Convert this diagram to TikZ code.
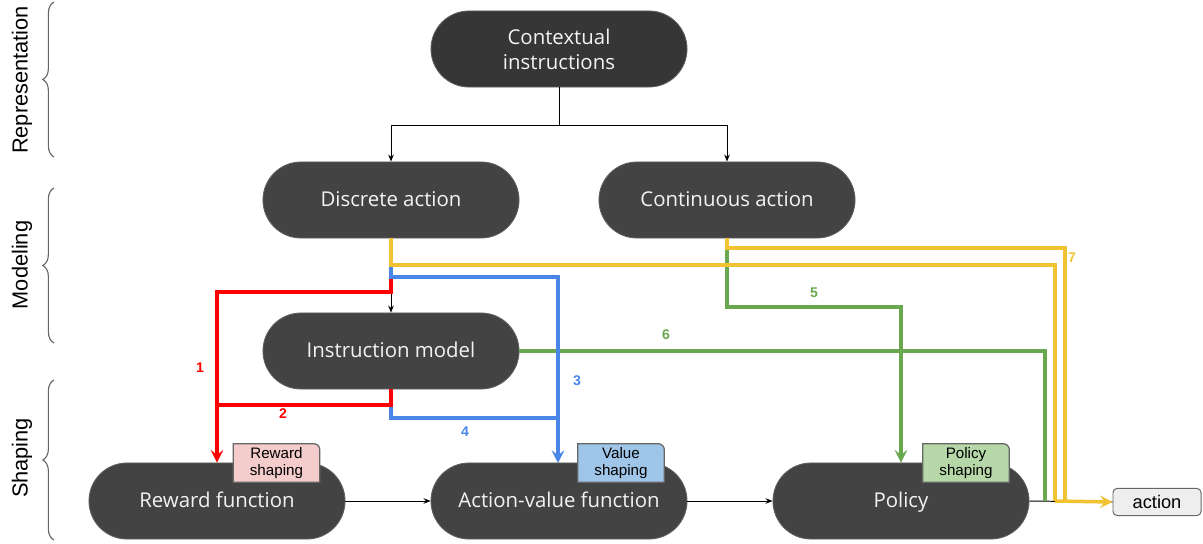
\documentclass[tikz,border=0pt]{standalone}
\usepackage{fontspec}
\setmainfont{Liberation Sans}
\newfontfamily\nodefont{Open Sans}
\usetikzlibrary{arrows.meta,decorations.pathreplacing}
\definecolor{nodefill}{HTML}{434343}
\definecolor{ctxfill}{HTML}{363636}
\definecolor{nodeline}{HTML}{5F5F5F}
\definecolor{nodetext}{HTML}{F3F3F3}
\definecolor{cred}{HTML}{FF0000}
\definecolor{cblue}{HTML}{4A86E8}
\definecolor{cyellow}{HTML}{F1C232}
\definecolor{cgreen}{HTML}{6AA84F}
\definecolor{tagpink}{HTML}{F4CCCC}
\definecolor{tagblue}{HTML}{9FC5E8}
\definecolor{taggreen}{HTML}{B6D7A8}
\definecolor{actfill}{HTML}{EEEEEE}
\definecolor{bracegray}{HTML}{666666}
\begin{document}
\begin{tikzpicture}[x=0.025cm,y=-0.025cm,
  pill/.style={rectangle, rounded corners=0.95cm, fill=nodefill, draw=nodeline, line width=0.6pt,
    minimum width=6.4cm, minimum height=1.9cm, text=nodetext, align=center,
    font=\nodefont\fontsize{14.5}{17.7}\selectfont, inner sep=0pt},
  single/.style={text height=1.2em, text depth=0.22em},
  tagbox/.style={minimum width=2.15cm, minimum height=0.95cm, inner sep=0pt, align=center,
    font=\fontsize{10.8}{12.2}\selectfont},
  tagedge/.style={draw=bracegray, line width=0.9pt},
  thin/.style={draw=black, line width=0.7pt},
  thinarrow/.style={thin, -{Stealth[length=5pt,width=4pt]}},
  colline/.style={line width=2.5pt},
  colarrow/.style={colline, -{Stealth[length=9pt,width=9pt,inset=3.5pt]}},
  numlabel/.style={font=\bfseries\fontsize{10}{11}\selectfont},
  sidelabel/.style={rotate=90, font=\fontsize{15.5}{18}\selectfont},
  sidebrace/.style={draw=bracegray, line width=0.8pt, decorate, decoration={brace, amplitude=0.28cm}}
]
\useasboundingbox (0,0) rectangle (1203,544);

% side labels and braces
\node[sidelabel] (lrep) at (22,80) {Representation};
\node[sidelabel] (lmod) at (22,265) {Modeling};
\node[sidelabel] (lsha) at (22,458) {Shaping};
\draw[sidebrace] (54,157) -- (54,2);
\draw[sidebrace] (54,343) -- (54,188);
\draw[sidebrace] (54,540) -- (54,380);

% nodes
\node[pill, fill=ctxfill] (ctx) at (559,49) {Contextual\\instructions};
\node[pill, single] (disc) at (391,200) {Discrete action};
\node[pill, single] (cont) at (727,200) {Continuous action};
\node[pill, single] (inst) at (391,351) {Instruction model};
\node[pill, single] (rew) at (217,501) {Reward function};
\node[pill, single] (av) at (559,501) {Action-value function};
\node[pill, single] (pol) at (901,501) {Policy};
\node[draw=bracegray, fill=actfill, rounded corners=3pt, line width=0.7pt, minimum width=2.2cm,
  minimum height=0.68cm, inner sep=0pt, font=\fontsize{13}{15}\selectfont] (act) at (1157,502) {action};

% tags
\node[tagbox] (trew) at (276.5,463) {};
\node[tagbox] (tval) at (621,463) {};
\node[tagbox] (tpol) at (966,463) {};
\foreach \t/\c in {trew/tagpink, tval/tagblue, tpol/taggreen}{
  \filldraw[tagedge, fill=\c] (\t.south west) -- (\t.north west) -- ([xshift=-0.15cm]\t.north east)
    arc[start angle=90, end angle=0, radius=0.15cm] -- (\t.south east) -- cycle;
}
\node[tagbox] (trewt) at (trew) {Reward\\shaping};
\node[tagbox] (tvalt) at (tval) {Value\\shaping};
\node[tagbox] (tpolt) at (tpol) {Policy\\shaping};

% black connectors
\coordinate (split) at (559,125);
\draw[thin] (ctx.south) -- (split);
\draw[thinarrow] (split) -| (disc.north);
\draw[thinarrow] (split) -| (cont.north);
\draw[thinarrow] (disc.south) -- (inst.north);
\draw[thinarrow] (rew.east) -- (av.west);
\draw[thinarrow] (av.east) -- (pol.west);
\draw[thin] (pol.east) -- (act.west);

% coordinates for joins
\coordinate (r2j) at (217,405);
\coordinate (b4j) at (558,418);
\coordinate (g6j) at (1045,501);
\coordinate (y1j) at (1055,501);
\coordinate (y2j) at (1065,501);

% green
\draw[colarrow, cgreen] (cont.south) -- (727,307) -| (pol.north);
\draw[colline, cgreen] (inst.east) -- (1045,351) -- (g6j);
% red
\draw[colarrow, cred] (disc.south) -- (391,292) -| (rew.north);
% blue
\draw[colarrow, cblue] (disc.south) -- (391,277) -| (558,463);
\draw[colline, cblue] (inst.south) -- (391,418) -- (b4j);
\draw[colline, cred] (inst.south) -- (391,405) -- (r2j);
% yellow
\draw[colline, cyellow] (disc.south) -- (391,265) -| (y1j);
\draw[colline, cyellow] (cont.south) -- (727,248) -| (y2j);
\draw[colarrow, cyellow] (y1j) -- (act.west);

% number labels
\node[numlabel, text=cred] (n1) at (200,368) {1};
\node[numlabel, text=cred] (n2) at (283,414) {2};
\node[numlabel, text=cblue] (n3) at (577,381) {3};
\node[numlabel, text=cblue] (n4) at (465,432) {4};
\node[numlabel, text=cgreen] (n5) at (814,293) {5};
\node[numlabel, text=cgreen] (n6) at (666,335) {6};
\node[numlabel, text=cyellow] (n7) at (1072,258) {7};
\end{tikzpicture}
\end{document}
